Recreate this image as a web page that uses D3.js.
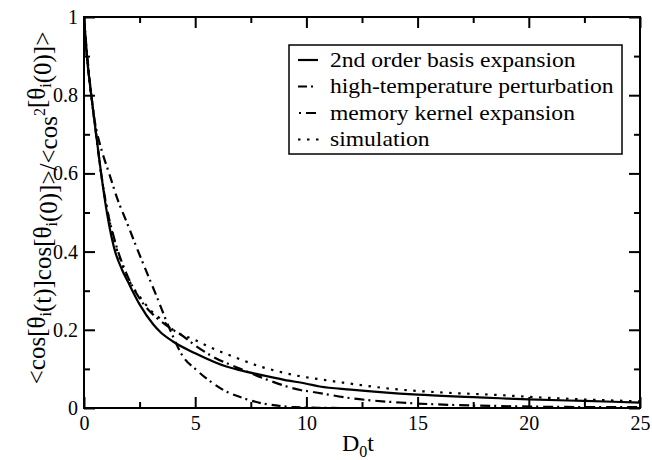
<!DOCTYPE html>
<html><head><meta charset="utf-8">
<script src="https://cdn.jsdelivr.net/npm/d3@7"></script>
</head>
<body style="margin:0"><svg id="c" width="652" height="460"></svg>
<script>
// ---- data ----
const tBasis = [0,0.1,0.2,0.35,0.5,0.77,1.0,1.14,1.4,1.7,2.0,2.5,3.1,3.42,4,5,6.4,7,8,9,10,10.6,12,14.2,15,17.5,18.7,20,22.5,25];
const vBasis = [1,0.92,0.86,0.79,0.72,0.6,0.51,0.465,0.4,0.355,0.32,0.265,0.215,0.195,0.17,0.14,0.106,0.097,0.084,0.072,0.062,0.055,0.047,0.037,0.034,0.028,0.025,0.022,0.018,0.014];
const tHighT = [0,0.1,0.2,0.35,0.45,0.57,0.7,0.85,1.13,1.47,2.0,2.37,2.8,3.27,3.87,4.47,5.0,5.68,6.3,7.17,8.0,8.7,9.5,10.5,12,15,20,25];
const vHighT = [1,0.93,0.87,0.79,0.745,0.708,0.678,0.648,0.6,0.54,0.464,0.41,0.35,0.285,0.2,0.13,0.1,0.068,0.045,0.025,0.012,0.006,0.002,0.0005,0,0,0,0];
const tMemory = [0,0.1,0.2,0.35,0.5,0.77,1.0,1.4,1.9,2.5,3,3.5,4,4.3,5,5.8,7,8.4,9.73,10.3,12,14.2,16.5,18.7,21,25];
const vMemory = [1,0.92,0.86,0.79,0.72,0.6,0.52,0.425,0.345,0.28,0.245,0.22,0.2,0.19,0.16,0.131,0.101,0.069,0.046,0.041,0.025,0.014,0.008,0.005,0.003,0.002];
const tSim = [0,0.1,0.2,0.35,0.5,0.77,1.0,1.4,1.9,2.5,3,3.5,4,5.07,5.5,7,7.93,8.5,9.73,10.3,11.5,14.2,16,18.7,20.2,22.5,25];
const vSim = [1,0.92,0.86,0.79,0.72,0.6,0.52,0.42,0.34,0.285,0.25,0.225,0.2,0.172,0.16,0.125,0.106,0.097,0.081,0.076,0.066,0.047,0.04,0.033,0.028,0.022,0.017];
const seriesNames = ["2nd order basis expansion","high-temperature perturbation","memory kernel expansion","simulation"];
const xMajor = [0,5,10,15,20,25];
const xMajorLabels = ["0","5","10","15","20","25"];
const xMinor = [2.5,7.5,12.5,17.5,22.5];
const yMajor = [0,0.2,0.4,0.6,0.8,1];
const yMajorLabels = ["0","0.2","0.4","0.6","0.8","1"];
const yMinor = [0.1,0.3,0.5,0.7,0.9];

// ---- chart ----
const FONT = '"Liberation Serif"';
const svg = d3.select("#c");
const L=84, R=640, T=17, B=408;
const x = d3.scaleLinear().domain([0,25]).range([L,R]);
const y = d3.scaleLinear().domain([0,1]).range([B,T]);

function txt(sel, size){
  return sel.attr("font-family","Liberation Serif").style("font-family",FONT).style("font-size",size+"px").attr("fill","#000");
}

svg.append("defs").append("clipPath").attr("id","pc")
  .append("rect").attr("x",L).attr("y",T-2).attr("width",R-L).attr("height",B-T+2);

const styles = [
  {t:tBasis,v:vBasis,dash:null,lx:[298,318]},
  {t:tHighT,v:vHighT,dash:"9,4,2,5",lx:[298,315]},
  {t:tMemory,v:vMemory,dash:"2,5,10,4",lx:[299,317]},
  {t:tSim,v:vSim,dash:"2.5,6.5",lx:[298,320]}
];
const line = d3.line().x(d=>x(d[0])).y(d=>y(d[1])).curve(d3.curveMonotoneX);
const g = svg.append("g").attr("clip-path","url(#pc)");
styles.forEach(s=>{
  g.append("path").datum(s.t.map((t,i)=>[t,s.v[i]]))
   .attr("d",line).attr("fill","none").attr("stroke","#000")
   .attr("stroke-width",2.2).attr("stroke-dasharray",s.dash);
});

function styleAxis(sel){
  sel.attr("font-family","Liberation Serif").attr("font-size",20);
  sel.select(".domain").remove();
  sel.selectAll("line").attr("stroke","#000").attr("stroke-width",2);
  txt(sel.selectAll("text"),20);
}
// bottom
svg.append("g").attr("transform",`translate(0,${B})`)
  .call(d3.axisBottom(x).tickValues(xMajor).tickSize(-11).tickPadding(8).tickFormat((d,i)=>xMajorLabels[i])).call(styleAxis);
svg.append("g").attr("transform",`translate(0,${B})`)
  .call(d3.axisBottom(x).tickValues(xMinor).tickSize(-6).tickFormat("")).call(styleAxis);
// top
svg.append("g").attr("transform",`translate(0,${T})`)
  .call(d3.axisTop(x).tickValues(xMajor).tickSize(-11).tickFormat("")).call(styleAxis);
svg.append("g").attr("transform",`translate(0,${T})`)
  .call(d3.axisTop(x).tickValues(xMinor).tickSize(-6).tickFormat("")).call(styleAxis);
// left
svg.append("g").attr("transform",`translate(${L},0)`)
  .call(d3.axisLeft(y).tickValues(yMajor).tickSize(-11).tickPadding(6).tickFormat((d,i)=>yMajorLabels[i])).call(styleAxis);
svg.append("g").attr("transform",`translate(${L},0)`)
  .call(d3.axisLeft(y).tickValues(yMinor).tickSize(-6).tickFormat("")).call(styleAxis);
// right
svg.append("g").attr("transform",`translate(${R},0)`)
  .call(d3.axisRight(y).tickValues(yMajor).tickSize(-11).tickFormat("")).call(styleAxis);
svg.append("g").attr("transform",`translate(${R},0)`)
  .call(d3.axisRight(y).tickValues(yMinor).tickSize(-6).tickFormat("")).call(styleAxis);

// frame
svg.append("rect").attr("x",L).attr("y",T).attr("width",R-L).attr("height",B-T)
  .attr("fill","none").attr("stroke","#000").attr("stroke-width",2);

// x label
const xl = txt(svg.append("text"),24).attr("x",358).attr("y",451).attr("text-anchor","middle");
xl.append("tspan").text("D");
xl.append("tspan").attr("dy",6).style("font-size","16px").text("0");
xl.append("tspan").attr("dy",-6).text("t");

// y label
const yl = txt(svg.append("text"),25).attr("transform","translate(45,208) rotate(-90)")
  .attr("text-anchor","middle");
function seg(s){ yl.append("tspan").text(s); }
function sub(s){ yl.append("tspan").attr("dy",6).style("font-size","16px").text(s); yl.append("tspan").attr("dy",-6).text(""); }
function sup(s){ yl.append("tspan").attr("dy",-12).style("font-size","16px").text(s); yl.append("tspan").attr("dy",12).text(""); }
seg("<cos[θ"); sub("i"); seg("(t)]cos[θ"); sub("i"); seg("(0)]>/<cos"); sup("2"); seg("[θ"); sub("i"); seg("(0)]>");

// legend
const lg = svg.append("g");
lg.append("rect").attr("x",289).attr("y",45).attr("width",333).attr("height",109)
  .attr("fill","#fff").attr("stroke","#000").attr("stroke-width",1.5);
seriesNames.forEach((name,i)=>{
  const yy = 60 + i*26.5;
  lg.append("line").attr("x1",styles[i].lx[0]).attr("x2",styles[i].lx[1]).attr("y1",yy).attr("y2",yy)
    .attr("stroke","#000").attr("stroke-width",2.2).attr("stroke-dasharray",styles[i].dash);
  txt(lg.append("text"),20).attr("transform",`translate(330,${yy+6.5}) scale(1.18,1)`).text(name);
});
</script></body></html>
